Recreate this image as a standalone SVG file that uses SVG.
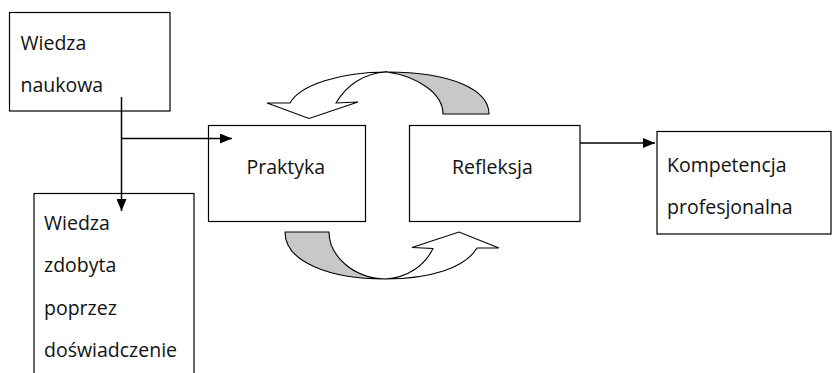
<svg xmlns="http://www.w3.org/2000/svg" width="832" height="373" viewBox="0 0 832 373">
  <style>
    .box { fill: #ffffff; stroke: #000000; stroke-width: 1.2; }
    .lbl { font-family: "Open Sans", "Liberation Sans", sans-serif; font-size: 19.5px; fill: #111111; }
    .conn { fill: none; stroke: #000000; stroke-width: 1.5; }
    .gray { fill: #c8c8c8; stroke: #000000; stroke-width: 1.1; stroke-linejoin: round; }
    .white { fill: #ffffff; stroke: #000000; stroke-width: 1.1; stroke-linejoin: miter; }
  </style>
  <defs>
    <marker id="arrow" markerUnits="userSpaceOnUse" markerWidth="12" markerHeight="10" refX="12" refY="5" orient="auto">
      <path d="M0,0 L12,5 L0,10 Z" fill="#000000"/>
    </marker>
  </defs>
  <rect width="832" height="373" fill="#ffffff"/>

  <g id="wiedza-naukowa">
    <rect class="box" x="9.5" y="12.5" width="160.5" height="98.5"/>
    <text class="lbl" x="20.5" y="49.5">Wiedza</text>
    <text class="lbl" x="20.5" y="91.5">naukowa</text>
  </g>

  <g id="wiedza-zdobyta">
    <rect class="box" x="34" y="193.5" width="160" height="200"/>
    <text class="lbl" x="44" y="230">Wiedza</text>
    <text class="lbl" x="44" y="272">zdobyta</text>
    <text class="lbl" x="44" y="314.5">poprzez</text>
    <text class="lbl" x="44" y="357">doświadczenie</text>
  </g>

  <g id="praktyka">
    <rect class="box" x="208.5" y="125.5" width="157" height="96"/>
    <text class="lbl" x="246.5" y="174">Praktyka</text>
  </g>

  <g id="refleksja">
    <rect class="box" x="409.5" y="125.5" width="170.5" height="96"/>
    <text class="lbl" x="452" y="174">Refleksja</text>
  </g>

  <g id="kompetencja">
    <rect class="box" x="657" y="131.5" width="174" height="102.5"/>
    <text class="lbl" x="667" y="171.5">Kompetencja</text>
    <text class="lbl" x="667" y="214">profesjonalna</text>
  </g>

  <g id="cycle-top">
    <path class="gray" d="M443,114 L489,114 C489,90 452,72 387,72 C415,76 443,92 443,114 Z"/>
    <path class="white" d="M387,72 C340,72 300,85 290,103 L267,103 L309,118.5 L358,102 L336,103 C346,86 363,73 387,72 Z"/>
  </g>

  <g id="cycle-bottom">
    <path class="gray" d="M285,232 L329,232 C329,255 352,278 385,279 C330,279 285,262 285,232 Z"/>
    <path class="white" d="M385,279 C430,279 465,268 477,248 L499,248 L459,232 L412,247.5 L433,248.5 C425,265 408,278 385,279 Z"/>
  </g>

  <g id="connectors">
    <line class="conn" x1="121.5" y1="97" x2="121.5" y2="211" marker-end="url(#arrow)"/>
    <line class="conn" x1="122" y1="138.5" x2="232" y2="138.5" marker-end="url(#arrow)"/>
    <line class="conn" x1="580" y1="143" x2="655" y2="143" marker-end="url(#arrow)"/>
  </g>
</svg>
